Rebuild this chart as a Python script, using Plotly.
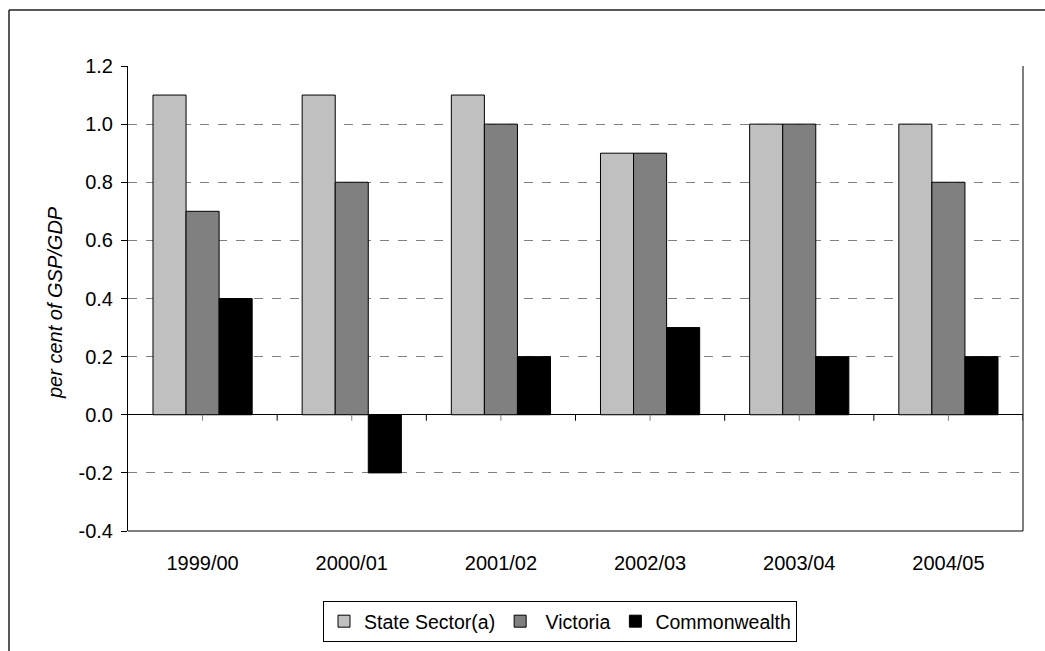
import plotly.graph_objects as go

categories = ["1999/00", "2000/01", "2001/02", "2002/03", "2003/04", "2004/05"]
state_sector = [1.1, 1.1, 1.1, 0.9, 1.0, 1.0]
victoria = [0.7, 0.8, 1.0, 0.9, 1.0, 0.8]
commonwealth = [0.4, -0.2, 0.2, 0.3, 0.2, 0.2]
series_names = ["State Sector(a)", " Victoria", "Commonwealth"]
series_colors = ["#C0C0C0", "#808080", "#000000"]
y_ticks = [-0.4, -0.2, 0.0, 0.2, 0.4, 0.6, 0.8, 1.0, 1.2]
y_tick_text = ["-0.4", "-0.2", "0.0", "0.2", "0.4", "0.6", "0.8", "1.0", "1.2"]

FONT = "Arial, Liberation Sans, sans-serif"
FS = 20
W, H = 1045, 651
ML, MR, MT, MB = 128, 22, 66, 120
PW, PH = W - ML - MR, H - MT - MB

fig = go.Figure()
for name, vals, col in zip(series_names, [state_sector, victoria, commonwealth], series_colors):
    fig.add_trace(go.Bar(
        x=list(range(len(categories))), y=vals, name=name,
        marker=dict(color=col, line=dict(color="#000000", width=1)),
    ))

def px_x(p):
    return (p - ML) / PW

def px_y(p):
    return 1 - (p - MT) / PH

shapes = []
# right and bottom plot border
shapes.append(dict(type="line", xref="paper", yref="paper", x0=1, x1=1, y0=0, y1=1,
                   line=dict(color="#000000", width=1)))
shapes.append(dict(type="line", xref="paper", yref="paper", x0=0, x1=1, y0=0, y1=0,
                   line=dict(color="#000000", width=1)))
# ticks on zero line
n = len(categories)
for i in range(n):
    for off, col in ((0.0, "#808080"), (0.5, "#000000")):
        xv = i + off
        shapes.append(dict(type="line", xref="x", yref="y", ysizemode="pixel", yanchor=0,
                           x0=xv, x1=xv, y0=0, y1=-6,
                           line=dict(color=col, width=1)))
# outer chart frame (left + top)
shapes.append(dict(type="line", xref="paper", yref="paper",
                   x0=px_x(9), x1=px_x(9), y0=px_y(10), y1=px_y(H + 5),
                   line=dict(color="#222222", width=1.5)))
shapes.append(dict(type="line", xref="paper", yref="paper",
                   x0=px_x(9), x1=px_x(W + 5), y0=px_y(10), y1=px_y(10),
                   line=dict(color="#222222", width=1.5)))

fig.update_layout(
    width=W, height=H,
    margin=dict(l=ML, r=MR, t=MT, b=MB, autoexpand=False),
    paper_bgcolor="white", plot_bgcolor="white",
    font=dict(family=FONT, size=FS, color="#000000"),
    barmode="group", bargap=0.335, bargroupgap=0,
    showlegend=True,
    legend=dict(orientation="h", x=px_x(560), xanchor="center", y=px_y(601), yanchor="top",
                bordercolor="#000000", borderwidth=1, bgcolor="white",
                font=dict(size=19.5), itemwidth=30, tracegroupgap=0),
    xaxis=dict(tickmode="array", tickvals=list(range(n)), ticktext=categories,
               range=[-0.5, n - 0.5], showgrid=False, zeroline=False, showline=False,
               ticks="", ticklabelstandoff=18, tickfont=dict(size=FS)),
    yaxis=dict(range=[-0.4, 1.2], tickmode="array", tickvals=y_ticks, ticktext=y_tick_text,
               showgrid=True, gridcolor="#808080", griddash="dash", gridwidth=1,
               zeroline=True, zerolinecolor="#000000", zerolinewidth=1,
               showline=True, linecolor="#000000", linewidth=1,
               ticks="outside", ticklen=6, tickcolor="#000000",
               ticklabelstandoff=4, tickfont=dict(size=FS)),
    shapes=shapes,
    annotations=[dict(text="per cent of GSP/GDP", xref="paper", yref="paper",
                      x=px_x(55), y=px_y(303), xanchor="center", yanchor="middle",
                      textangle=-90, showarrow=False,
                      font=dict(family=FONT, size=FS, style="italic"))],
)

fig.write_html("out.html")
